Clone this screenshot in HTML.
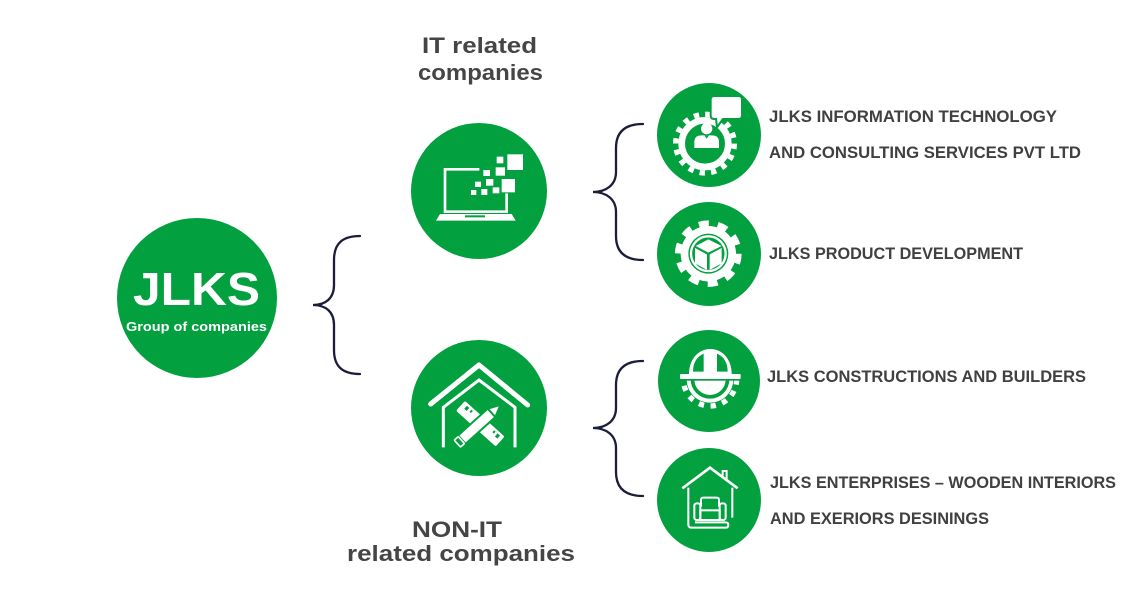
<!DOCTYPE html>
<html><head><meta charset="utf-8">
<style>
html,body{margin:0;padding:0;background:#fff;width:1141px;height:596px;overflow:hidden}
svg{display:block}
text{font-family:"Liberation Sans",Arial,sans-serif;font-weight:bold}
</style></head><body>
<svg width="1141" height="596" viewBox="0 0 1141 596" xmlns="http://www.w3.org/2000/svg">
<defs>
<clipPath id="lowerHalf"><rect x="0" y="163" width="330" height="200"/></clipPath>
</defs>

<!-- main circle -->
<circle cx="197" cy="298" r="80" fill="#03a03f"/>
<text x="133" y="305" font-size="46" fill="#fff" textLength="127" lengthAdjust="spacingAndGlyphs">JLKS</text>
<text x="126" y="331" font-size="13" fill="#fff" textLength="141" lengthAdjust="spacingAndGlyphs">Group of companies</text>

<!-- braces -->
<g fill="none" stroke="#1c1c3c" stroke-width="2.3" stroke-linecap="round">
<path d="M360,236 C343,236 334,243 334,260 L334,285 C334,298 326,305 313,305 C326,305 334,312 334,325 L334,350 C334,367 343,374 360,374"/>
<path d="M643,124 C626,124 616,131 616,148 L616,172 C616,185 606,192 593,192 C606,192 616,199 616,212 L616,236 C616,253 626,260 643,260"/>
<path d="M643,361 C626,361 616,368 616,385 L616,408 C616,421 606,428 593,428 C606,428 616,435 616,448 L616,472 C616,489 626,496 643,496"/>
</g>

<!-- headings -->
<text x="422" y="53" font-size="22" fill="#454545" textLength="115" lengthAdjust="spacingAndGlyphs">IT related</text>
<text x="418" y="80" font-size="22" fill="#454545" textLength="125" lengthAdjust="spacingAndGlyphs">companies</text>
<text x="412" y="537" font-size="22" fill="#454545" textLength="90" lengthAdjust="spacingAndGlyphs">NON-IT</text>
<text x="347" y="561" font-size="22" fill="#454545" textLength="228" lengthAdjust="spacingAndGlyphs">related companies</text>

<!-- IT circle -->
<circle cx="479" cy="191" r="68" fill="#03a03f"/>
<g transform="translate(400,110) scale(0.33333)" fill="#fff">
<polyline points="238,178 135,178 135,305 320,305 320,250" fill="none" stroke="#fff" stroke-width="8"/>
<path d="M120,312 L335,312 L347,332 L108,332 Z"/>
<rect x="195" y="316" width="60" height="6" fill="#03a03f"/>
<rect x="290" y="140" width="20" height="20"/>
<rect x="322" y="133" width="47" height="47"/>
<rect x="250" y="180" width="20" height="18"/>
<rect x="287" y="172" width="28" height="25"/>
<rect x="258" y="207" width="22" height="20"/>
<rect x="305" y="207" width="40" height="40"/>
<rect x="225" y="215" width="18" height="16"/>
<rect x="213" y="240" width="16" height="15"/>
<rect x="244" y="237" width="18" height="18"/>
<rect x="278" y="232" width="20" height="18"/>
</g>

<!-- NON-IT circle -->
<circle cx="479" cy="408" r="68" fill="#03a03f"/>
<g transform="translate(400,330) scale(0.33333)">
<polyline points="92,222 237,105 383,225" fill="none" stroke="#fff" stroke-width="15" stroke-linecap="round" stroke-linejoin="round"/>
<polyline points="130,352 130,232 237,150 345,232 345,352" fill="none" stroke="#fff" stroke-width="9"/>
<g transform="translate(241,281) rotate(42)">
<rect x="-80" y="-20" width="160" height="40" rx="5" fill="#fff"/>
<rect x="-66" y="-13" width="10" height="12" fill="#03a03f"/>
<rect x="-48" y="-13" width="6" height="8" fill="#03a03f"/>
<rect x="44" y="-13" width="6" height="8" fill="#03a03f"/>
<rect x="58" y="-13" width="10" height="12" fill="#03a03f"/>
</g>
<g transform="translate(242,278) rotate(-42)">
<rect x="-76" y="-17" width="120" height="34" fill="#fff" stroke="#03a03f" stroke-width="6"/>
<polygon points="44,-17 80,0 44,17" fill="#fff" stroke="#03a03f" stroke-width="6" stroke-linejoin="round"/>
<rect x="-94" y="-14" width="16" height="28" rx="3" fill="#03a03f" stroke="#fff" stroke-width="5"/>
</g>
</g>

<!-- small circle 1 -->
<circle cx="709" cy="135" r="52" fill="#03a03f"/>
<g transform="translate(655,82) scale(0.33333)">
<circle cx="150" cy="185" r="70" fill="none" stroke="#fff" stroke-width="20"/>
<circle cx="150" cy="185" r="88" fill="none" stroke="#fff" stroke-width="16" stroke-dasharray="16 18.56"/>
<path d="M178,45 H250 Q258,45 258,53 V100 Q258,108 250,108 H202 L188,128 L186,108 H178 Q170,108 170,100 V53 Q170,45 178,45 Z" fill="#fff" stroke="#03a03f" stroke-width="12" paint-order="stroke"/>
<circle cx="155" cy="140" r="17" fill="#fff"/>
<path d="M118,198 L118,180 Q118,160 140,160 L170,160 Q192,160 192,180 L192,198 Z" fill="#fff"/>
<polygon points="148,160 162,160 155,170" fill="#03a03f"/>
</g>
<text x="769" y="122" font-size="17" fill="#404040" textLength="288" lengthAdjust="spacingAndGlyphs">JLKS INFORMATION TECHNOLOGY</text>
<text x="769" y="158" font-size="17" fill="#404040" textLength="312" lengthAdjust="spacingAndGlyphs">AND CONSULTING SERVICES PVT LTD</text>

<!-- small circle 2 -->
<circle cx="709" cy="254" r="52" fill="#03a03f"/>
<g transform="translate(655,200) scale(0.33333)">
<circle cx="160" cy="161" r="83" fill="#fff"/>
<circle cx="160" cy="161" r="91" fill="none" stroke="#fff" stroke-width="18" stroke-dasharray="30 27.18" transform="rotate(-108 160 161)"/>
<circle cx="160" cy="161" r="60" fill="#03a03f"/>
<circle cx="160" cy="161" r="52" fill="none" stroke="#fff" stroke-width="7"/>
<polygon points="160,118 200,138 160,158 122,138" fill="#fff"/>
<polygon points="120,144 156,163 156,210 120,190" fill="#fff"/>
<polygon points="164,163 200,144 200,190 164,210" fill="#fff"/>
</g>
<text x="769" y="259" font-size="17" fill="#404040" textLength="254" lengthAdjust="spacingAndGlyphs">JLKS PRODUCT DEVELOPMENT</text>

<!-- small circle 3 -->
<circle cx="709" cy="381" r="51" fill="#03a03f"/>
<g transform="translate(655,325) scale(0.33333)">
<g clip-path="url(#lowerHalf)">
<circle cx="165" cy="163" r="70" fill="#fff"/>
<circle cx="165" cy="163" r="80" fill="none" stroke="#fff" stroke-width="16" stroke-dasharray="16 19.9"/>
<circle cx="165" cy="163" r="58" fill="#03a03f"/>
<circle cx="165" cy="163" r="47" fill="#fff"/>
</g>
<path d="M102,147 C102,105 128,72 166,72 C204,72 230,105 230,147 Z" fill="#fff"/>
<path d="M114,140 C114,112 126,95 146,86 L146,140 Z" fill="#03a03f"/>
<path d="M218,140 C218,112 206,95 186,86 L186,140 Z" fill="#03a03f"/>
<rect x="75" y="147" width="182" height="15" rx="3" fill="#fff"/>
<rect x="75" y="162" width="182" height="5" fill="#03a03f"/>
</g>
<text x="767" y="382" font-size="17" fill="#404040" textLength="319" lengthAdjust="spacingAndGlyphs">JLKS CONSTRUCTIONS AND BUILDERS</text>

<!-- small circle 4 -->
<circle cx="709" cy="500" r="52" fill="#03a03f"/>
<g transform="translate(655,325) scale(0.33333)" fill="none" stroke="#fff" stroke-width="6">
<polyline points="82,490 165,428 248,490" stroke-width="8"/>
<polyline points="203,452 203,438 215,438 215,462"/>
<line x1="100" y1="488" x2="100" y2="600"/>
<line x1="232" y1="488" x2="232" y2="578"/>
<path d="M100,598 Q100,608 110,608 L212,608 Q220,608 220,600 Q220,592 212,592 L120,592"/>
<path d="M138,545 V525 Q138,518 145,518 H185 Q192,518 192,525 V545"/>
<rect x="118" y="535" width="18" height="50" rx="7"/>
<rect x="194" y="535" width="18" height="50" rx="7"/>
<rect x="136" y="556" width="58" height="29"/>
</g>
<text x="770" y="488" font-size="17" fill="#404040" textLength="346" lengthAdjust="spacingAndGlyphs">JLKS ENTERPRISES – WOODEN INTERIORS</text>
<text x="770" y="524" font-size="17" fill="#404040" textLength="219" lengthAdjust="spacingAndGlyphs">AND EXERIORS DESININGS</text>
</svg>
</body></html>
